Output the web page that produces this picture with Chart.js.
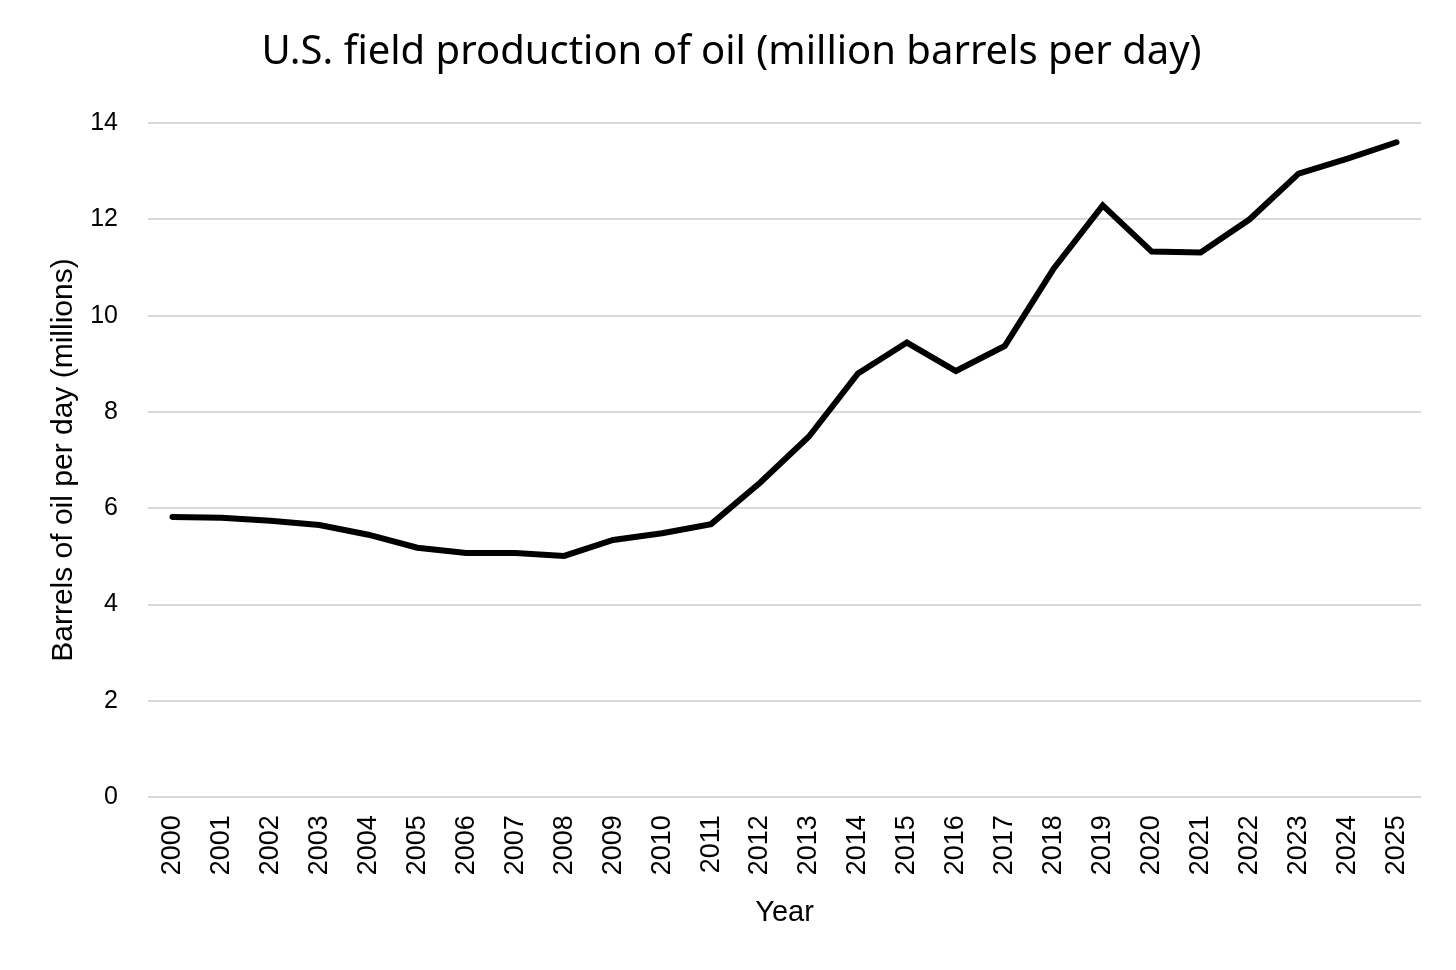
<!DOCTYPE html>
<html>
<head>
<meta charset="utf-8">
<script src="https://cdn.jsdelivr.net/npm/chart.js@4.4.1/dist/chart.umd.min.js"></script>
<style>
  html, body { margin: 0; padding: 0; background: #fff; }
  #wrap { width: 1456px; height: 970px; }
</style>
</head>
<body>
<div id="wrap"><canvas id="chart"></canvas></div>
<script>
const years = ["2000", "2001", "2002", "2003", "2004", "2005", "2006", "2007", "2008",
  "2009", "2010", "2011", "2012", "2013", "2014", "2015", "2016", "2017", "2018",
  "2019", "2020", "2021", "2022", "2023", "2024", "2025"];

const production = [5.82, 5.80, 5.74, 5.65, 5.45, 5.18, 5.07, 5.07, 5.01,
  5.34, 5.48, 5.67, 6.53, 7.49, 8.80, 9.44, 8.85, 9.37, 10.98,
  12.29, 11.33, 11.31, 12.00, 12.95, 13.26, 13.60];

const yTicks = [0, 2, 4, 6, 8, 10, 12, 14];

const tickFont = "'Liberation Sans', Arial, sans-serif";
const titleFont = "'Noto Sans', 'Liberation Sans', sans-serif";

new Chart(document.getElementById("chart"), {
  type: "line",
  data: {
    labels: years,
    datasets: [{
      data: production,
      borderColor: "#000",
      borderWidth: 6,
      borderCapStyle: "round",
      borderJoinStyle: "miter",
      pointRadius: 0,
      tension: 0
    }]
  },
  options: {
    responsive: true,
    maintainAspectRatio: false,
    animation: false,
    layout: { padding: { top: 29, right: 35, left: 42, bottom: 36 } },
    plugins: {
      legend: { display: false },
      tooltip: { enabled: false },
      title: {
        display: true,
        text: "U.S. field production of oil (million barrels per day)",
        color: "#000",
        font: { family: titleFont, size: 40, weight: "normal" },
        padding: { top: 0, bottom: 46 }
      }
    },
    scales: {
      x: {
        offset: true,
        grid: { display: false },
        border: { display: false },
        ticks: {
          color: "#000",
          font: { family: tickFont, size: 27 },
          maxRotation: 90,
          minRotation: 90,
          padding: 10,
          autoSkip: false
        },
        title: {
          display: true,
          text: "Year",
          color: "#000",
          font: { family: tickFont, size: 29 },
          padding: { top: 10 }
        }
      },
      y: {
        min: yTicks[0],
        max: yTicks[yTicks.length - 1],
        afterBuildTicks: axis => { axis.ticks = yTicks.map(v => ({ value: v })); },
        afterFit: axis => { axis.width = 106; },
        grid: { color: "#d9d9d9", lineWidth: 2, drawTicks: false },
        border: { display: false },
        ticks: {
          color: "#000",
          font: { family: tickFont, size: 25 },
          padding: 30
        },
        title: {
          display: true,
          text: "Barrels of oil per day (millions)",
          color: "#000",
          font: { family: tickFont, size: 30 },
          padding: { bottom: 12 }
        }
      }
    }
  }
});
</script>
</body>
</html>
